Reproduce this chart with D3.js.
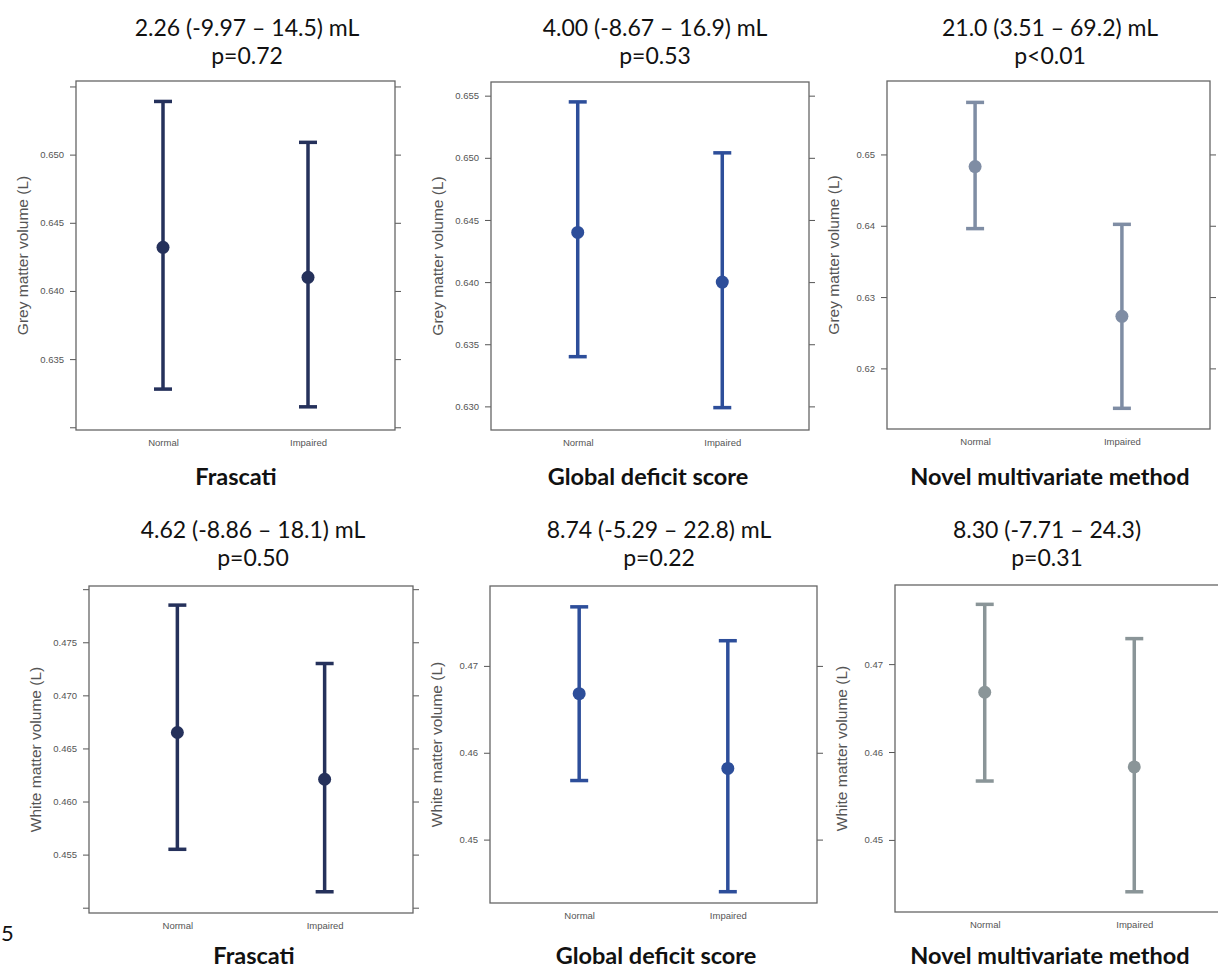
<!DOCTYPE html>
<html>
<head>
<meta charset="utf-8">
<script src="https://cdn.jsdelivr.net/npm/d3@7"></script>
<style>
  body { margin: 0; background: #fff; }
  svg { display: block; }
</style>
</head>
<body>
<div id="chart"></div>
<script>
// values (litres)
const groups = ["Normal", "Impaired"];
const methods = ["Frascati", "Global deficit score", "Novel multivariate method"];
const diffLabels = ["2.26 (-9.97 \u2013 14.5) mL", "4.00 (-8.67 \u2013 16.9) mL", "21.0 (3.51 \u2013 69.2) mL",
                    "4.62 (-8.86 \u2013 18.1) mL", "8.74 (-5.29 \u2013 22.8) mL", "8.30 (-7.71 \u2013 24.3)"];
const pLabels = ["p=0.72", "p=0.53", "p<0.01", "p=0.50", "p=0.22", "p=0.31"];
const yLabels = ["Grey matter volume (L)", "White matter volume (L)"];

const gmFrascatiMean = [0.6432, 0.6410];
const gmFrascatiLow = [0.6328, 0.6315];
const gmFrascatiHigh = [0.6539, 0.6509];
const gmGdsMean = [0.6440, 0.6400];
const gmGdsLow = [0.6340, 0.6299];
const gmGdsHigh = [0.6545, 0.6504];
const gmNovelMean = [0.6483, 0.6273];
const gmNovelLow = [0.6396, 0.6144];
const gmNovelHigh = [0.6573, 0.6402];

const wmFrascatiMean = [0.4665, 0.4621];
const wmFrascatiLow = [0.4555, 0.4515];
const wmFrascatiHigh = [0.4785, 0.4730];
const wmGdsMean = [0.4668, 0.4582];
const wmGdsLow = [0.4568, 0.4440];
const wmGdsHigh = [0.4768, 0.4729];
const wmNovelMean = [0.4668, 0.4583];
const wmNovelLow = [0.4567, 0.4441];
const wmNovelHigh = [0.4768, 0.4729];

// axis ranges and ticks
const gmFrascatiDomain = [0.6298, 0.6554];
const gmGdsDomain = [0.6281, 0.6561];
const gmNovelDomain = [0.6115, 0.6603];
const wmFrascatiDomain = [0.4495, 0.4803];
const wmGdsDomain = [0.4427, 0.4792];
const wmNovelDomain = [0.4418, 0.4790];

const gmFrascatiTicks = [0.630, 0.635, 0.640, 0.645, 0.650, 0.655];
const gmFrascatiTickLabels = ["", "0.635", "0.640", "0.645", "0.650", ""];
const gmGdsTicks = [0.630, 0.635, 0.640, 0.645, 0.650, 0.655];
const gmGdsTickLabels = ["0.630", "0.635", "0.640", "0.645", "0.650", "0.655"];
const gmNovelTicks = [0.62, 0.63, 0.64, 0.65];
const gmNovelTickLabels = ["0.62", "0.63", "0.64", "0.65"];
const wmFrascatiTicks = [0.450, 0.455, 0.460, 0.465, 0.470, 0.475, 0.480];
const wmFrascatiTickLabels = ["", "0.455", "0.460", "0.465", "0.470", "0.475", ""];
const wmGdsTicks = [0.45, 0.46, 0.47];
const wmGdsTickLabels = ["0.45", "0.46", "0.47"];
const wmNovelTicks = [0.45, 0.46, 0.47];
const wmNovelTickLabels = ["0.45", "0.46", "0.47"];

const width = 1218, height = 971;
const titleFont = "Lato, 'Open Sans', sans-serif";
const plotFont = "'Liberation Sans', Arial, sans-serif";

// box = frame [x0, y0, x1, y1]; tx = title centre; lx = method label centre
const panels = [
  { box: [76, 81, 395, 430], tx: 247, lx: 236, method: 0, row: 0, color: "#25315b",
    mean: gmFrascatiMean, low: gmFrascatiLow, high: gmFrascatiHigh,
    domain: gmFrascatiDomain, ticks: gmFrascatiTicks, tickLabels: gmFrascatiTickLabels },
  { box: [491, 82, 809, 430], tx: 655, lx: 648, method: 1, row: 0, color: "#2d4e9a",
    mean: gmGdsMean, low: gmGdsLow, high: gmGdsHigh,
    domain: gmGdsDomain, ticks: gmGdsTicks, tickLabels: gmGdsTickLabels },
  { box: [887, 81, 1210, 429], tx: 1050, lx: 1050, method: 2, row: 0, color: "#7f8da4",
    mean: gmNovelMean, low: gmNovelLow, high: gmNovelHigh,
    domain: gmNovelDomain, ticks: gmNovelTicks, tickLabels: gmNovelTickLabels },
  { box: [89, 586, 413, 913], tx: 253, lx: 254, method: 0, row: 1, color: "#25315b",
    mean: wmFrascatiMean, low: wmFrascatiLow, high: wmFrascatiHigh,
    domain: wmFrascatiDomain, ticks: wmFrascatiTicks, tickLabels: wmFrascatiTickLabels },
  { box: [490, 586, 817, 903], tx: 659, lx: 656, method: 1, row: 1, color: "#2d4e9a",
    mean: wmGdsMean, low: wmGdsLow, high: wmGdsHigh,
    domain: wmGdsDomain, ticks: wmGdsTicks, tickLabels: wmGdsTickLabels },
  { box: [895, 585, 1224, 912], tx: 1047, lx: 1050, method: 2, row: 1, color: "#8a9598",
    mean: wmNovelMean, low: wmNovelLow, high: wmNovelHigh,
    domain: wmNovelDomain, ticks: wmNovelTicks, tickLabels: wmNovelTickLabels }
];

const svg = d3.select("#chart").append("svg")
  .attr("width", width)
  .attr("height", height);

panels.forEach((p, i) => {
  const [x0, y0, x1, y1] = p.box;
  const x = d3.scalePoint().domain(groups).range([x0, x1]).padding(0.6);
  const y = d3.scaleLinear().domain(p.domain).range([y1, y0]);
  const g = svg.append("g");

  // title above each panel
  const titleY = p.row === 0 ? 36 : 538;
  g.append("text").attr("x", p.tx).attr("y", titleY)
    .attr("text-anchor", "middle").attr("font-family", titleFont)
    .attr("font-size", 23).attr("fill", "#111").text(diffLabels[i]);
  g.append("text").attr("x", p.tx).attr("y", titleY + 28)
    .attr("text-anchor", "middle").attr("font-family", titleFont)
    .attr("font-size", 23).attr("fill", "#111").text(pLabels[i]);

  // method name below
  g.append("text").attr("x", p.lx).attr("y", p.row === 0 ? 485 : 964)
    .attr("text-anchor", "middle").attr("font-family", titleFont)
    .attr("font-weight", "bold").attr("font-size", 23.5).attr("fill", "#111")
    .text(methods[p.method]);

  // left axis + mirrored right ticks (lattice style)
  const left = g.append("g").attr("transform", `translate(${x0},0)`)
    .call(d3.axisLeft(y).tickValues(p.ticks).tickSize(6).tickPadding(6)
      .tickFormat((d, k) => p.tickLabels[k]));
  const right = g.append("g").attr("transform", `translate(${x1},0)`)
    .call(d3.axisRight(y).tickValues(p.ticks).tickSize(6).tickFormat(""));
  [left, right].forEach(a => {
    a.select(".domain").remove();
    a.selectAll("line").attr("stroke", "#555");
    a.selectAll("text").attr("font-family", plotFont).attr("font-size", 9.5).attr("fill", "#555");
  });

  // x labels
  g.append("g").attr("transform", `translate(0,${y1})`)
    .call(d3.axisBottom(x).tickSize(0).tickPadding(9))
    .call(a => a.select(".domain").remove())
    .selectAll("text").attr("font-family", plotFont).attr("font-size", 9.5).attr("fill", "#555");

  // frame
  g.append("rect").attr("x", x0).attr("y", y0)
    .attr("width", x1 - x0).attr("height", y1 - y0)
    .attr("fill", "none").attr("stroke", "#666").attr("stroke-width", 1.3);

  // y axis title
  g.append("text")
    .attr("transform", `translate(${x0 - 48},${(y0 + y1) / 2}) rotate(-90)`)
    .attr("text-anchor", "middle").attr("font-family", plotFont)
    .attr("font-size", 15.5).attr("fill", "#555").text(yLabels[p.row]);

  // error bars
  const rows = groups.map((grp, k) => ({ grp, mean: p.mean[k], low: p.low[k], high: p.high[k] }));
  const bars = g.selectAll(".bar").data(rows).join("g").attr("class", "bar");
  bars.append("line")
    .attr("x1", d => x(d.grp)).attr("x2", d => x(d.grp))
    .attr("y1", d => y(d.low)).attr("y2", d => y(d.high))
    .attr("stroke", p.color).attr("stroke-width", 3.5);
  ["low", "high"].forEach(k => {
    bars.append("line")
      .attr("x1", d => x(d.grp) - 9).attr("x2", d => x(d.grp) + 9)
      .attr("y1", d => y(d[k])).attr("y2", d => y(d[k]))
      .attr("stroke", p.color).attr("stroke-width", 3.5);
  });
  bars.append("circle")
    .attr("cx", d => x(d.grp)).attr("cy", d => y(d.mean))
    .attr("r", 6.5).attr("fill", p.color);
});

// figure number at the left edge
svg.append("text").attr("x", 1).attr("y", 941)
  .attr("font-family", titleFont).attr("font-size", 22).attr("fill", "#111").text("5");
</script>
</body>
</html>
